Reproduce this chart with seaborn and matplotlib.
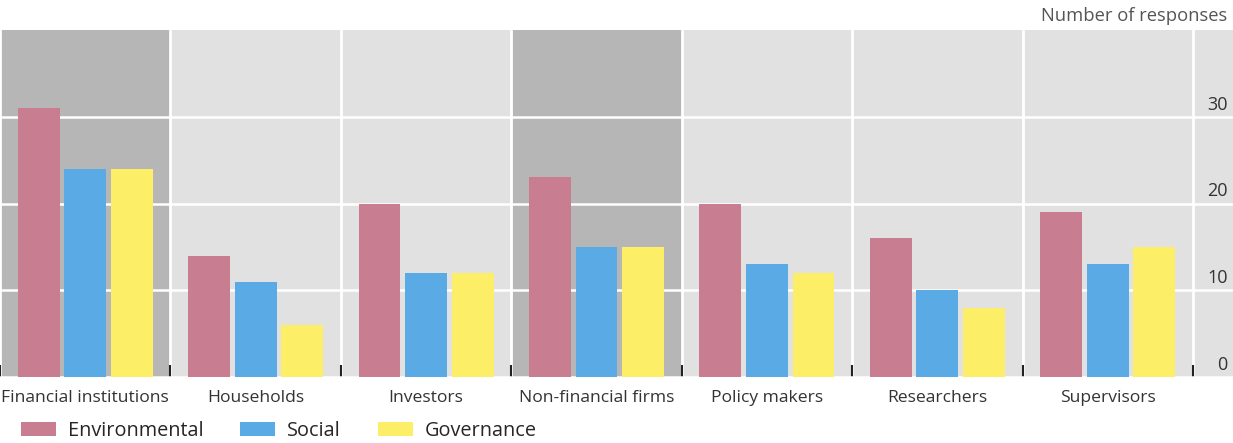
import numpy as np
import pandas as pd
import seaborn as sns
import matplotlib.pyplot as plt
from matplotlib.transforms import ScaledTranslation
from matplotlib.patches import Patch

# ---- data ----
categories = ["Financial institutions", "Households", "Investors",
              "Non-financial firms", "Policy makers", "Researchers", "Supervisors"]
series = ["Environmental", "Social", "Governance"]
environmental = [31, 14, 20, 23, 20, 16, 19]
social = [24, 11, 12, 15, 13, 10, 13]
governance = [24, 6, 12, 15, 12, 8, 15]
highlighted = ["Financial institutions", "Non-financial firms"]
yticks = [0, 10, 20, 30]
unit_label = "Number of responses"

colors = ["#c97d90", "#5aaae5", "#fdee68"]

df = pd.DataFrame({
    "category": categories * 3,
    "series": np.repeat(series, len(categories)),
    "value": environmental + social + governance,
})

sns.set_theme(style="white")
plt.rcParams['font.family'] = ['Open Sans', 'DejaVu Sans']

W, H = 1233, 443
fig = plt.figure(figsize=(W / 100, H / 100), dpi=100)
ax = fig.add_axes([0, 1 - 377 / H, 1, (377 - 30) / H])
ax.set_facecolor("#e1e1e1")

for c in highlighted:
    i = categories.index(c)
    ax.axvspan(i - 0.5, i + 0.5, color="#b6b6b6", lw=0, zorder=0)

sns.barplot(data=df, x="category", y="value", hue="series",
            order=categories, hue_order=series, palette=colors,
            width=0.82, gap=0.1, saturation=1, linewidth=0,
            legend=False, ax=ax, zorder=3)

cat_w = 1193 / 7
ax.set_xlim(-0.5, -0.5 + W / cat_w)
ax.set_ylim(0, 40)
ax.set_axisbelow(True)

# y axis on right, labels inside
ax.set_yticks(yticks)
ax.yaxis.tick_right()
ax.yaxis.grid(True, color="white", lw=1.8)
ax.tick_params(axis="y", length=0, pad=-4, labelsize=13, labelcolor="#333333")
off = ScaledTranslation(0, 14 / 100, fig.dpi_scale_trans)
for lbl in ax.get_yticklabels():
    lbl.set_ha("right")
    lbl.set_transform(lbl.get_transform() + off)

# x axis: separators
ax.set_xticks(np.arange(-0.5, len(categories), 1), minor=True)
ax.grid(which="minor", axis="x", color="white", lw=2)
ax.grid(which="major", axis="x", visible=False)
ax.tick_params(axis="x", which="major", length=0, pad=9, labelsize=12.6, labelcolor="#333333")
ax.tick_params(axis="x", which="minor", direction="in", length=9, width=1.5,
               color="#222222", bottom=True)
ax.set_xlabel("")
ax.set_ylabel("")
for s in ax.spines.values():
    s.set_visible(False)

handles = [Patch(facecolor=c, edgecolor="none") for c in colors]
fig.legend(handles, series, loc="center left",
           bbox_to_anchor=(21 / W, 1 - 431 / H), ncol=3, frameon=False,
           fontsize=14.3, handlelength=1.76, handleheight=0.7,
           handletextpad=0.6, columnspacing=1.85, borderpad=0, borderaxespad=0)

fig.text(1227 / W, 1 - 16 / H, unit_label, ha="right", va="center",
         fontsize=13.2, color="#555555")

fig.savefig("out.png", dpi=100)
